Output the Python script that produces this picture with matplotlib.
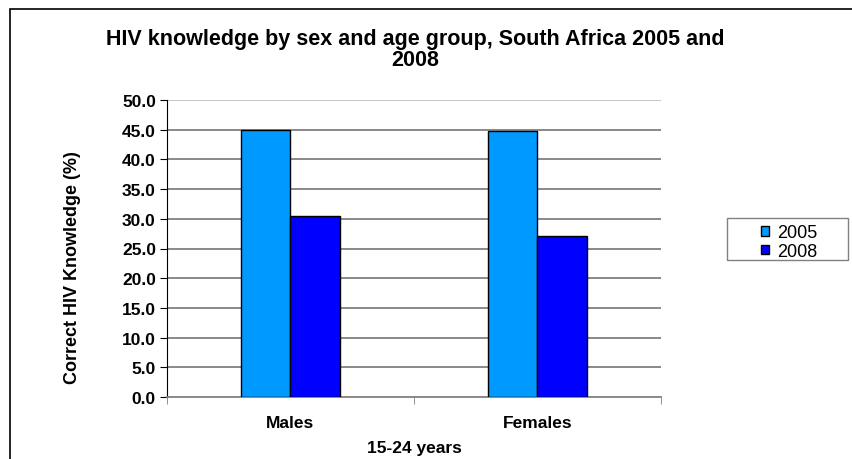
import matplotlib.pyplot as plt
from matplotlib.patches import Rectangle
import numpy as np

plt.rcParams['font.family'] = ['Liberation Sans', 'DejaVu Sans']

groups = ["Males", "Females"]
years = ["2005", "2008"]
values_2005 = [45.0, 44.7]
values_2008 = [30.4, 27.1]
colors = ["#0099FF", "#0000FF"]
y_ticks = np.arange(0, 50.1, 5)

W, H = 853, 460


def main():
    fig = plt.figure(figsize=(W / 100, H / 100), dpi=100)
    # outer chart border (runs off the right and bottom edges)
    fig.patches.append(Rectangle((10 / W, -0.1), 1.2, 1.1 - 10 / H,
                                 transform=fig.transFigure, fill=False,
                                 edgecolor="black", linewidth=1.2, zorder=-1))

    ax = fig.add_axes([167 / W, 1 - 398 / H, (661 - 167) / W, (398 - 101) / H])

    x = np.arange(len(groups))
    w = 0.2
    ax.bar(x - w / 2, values_2005, w, color=colors[0], edgecolor="black",
           linewidth=1, label=years[0], zorder=3)
    ax.bar(x + w / 2, values_2008, w, color=colors[1], edgecolor="black",
           linewidth=1, label=years[1], zorder=3)

    ax.set_xlim(-0.5, 1.5)
    ax.set_ylim(0, 50)
    ax.set_yticks(y_ticks)
    ax.set_yticklabels([f"{v:.1f}" for v in y_ticks], fontsize=12.5, fontweight="bold")
    for v in y_ticks[1:]:
        c = "#c0c0c0" if v == 50 else "#808080"
        ax.axhline(v, color=c, linewidth=1.3, zorder=1)

    ax.set_xticks(x)
    ax.set_xticklabels(groups, fontsize=12.5, fontweight="bold")
    ax.tick_params(axis="x", which="major", length=0, pad=13)
    ax.set_xticks([-0.5, 0.5, 1.5], minor=True)
    ax.tick_params(axis="x", which="minor", length=5, color="#808080", direction="out")
    ax.tick_params(axis="y", length=5, color="black", direction="out", pad=3)

    for s in ["top", "right"]:
        ax.spines[s].set_visible(False)
    ax.spines["left"].set_color("black")
    ax.spines["bottom"].set_color("#808080")
    ax.spines["bottom"].set_linewidth(1.3)

    ax.set_xlabel("15-24 years", fontsize=12.5, fontweight="bold", labelpad=7.5)
    fig.text(73 / W, 1 - 268 / H, "Correct HIV Knowledge (%)", rotation=90,
             ha="center", va="center", fontsize=13, fontweight="bold")

    fig.text(415 / W, 1 - 50 / H,
             "HIV knowledge by sex and age group, South Africa 2005 and\n2008",
             ha="center", va="center", fontsize=15.5, fontweight="bold", linespacing=1.0)

    # legend box
    fig.patches.append(Rectangle((727 / W, 1 - 261 / H), 121 / W, 42 / H,
                                 transform=fig.transFigure, facecolor="white",
                                 edgecolor="#808080", linewidth=1, zorder=-1))
    ax.legend(loc="center", bbox_to_anchor=(789 / W, 1 - 243 / H),
              bbox_transform=fig.transFigure, fontsize=13, frameon=False,
              handlelength=0.45, handleheight=0.45, handletextpad=0.45,
              borderpad=0, labelspacing=0.1, borderaxespad=0)

    fig.savefig("out.png", dpi=100)


if __name__ == "__main__":
    main()
